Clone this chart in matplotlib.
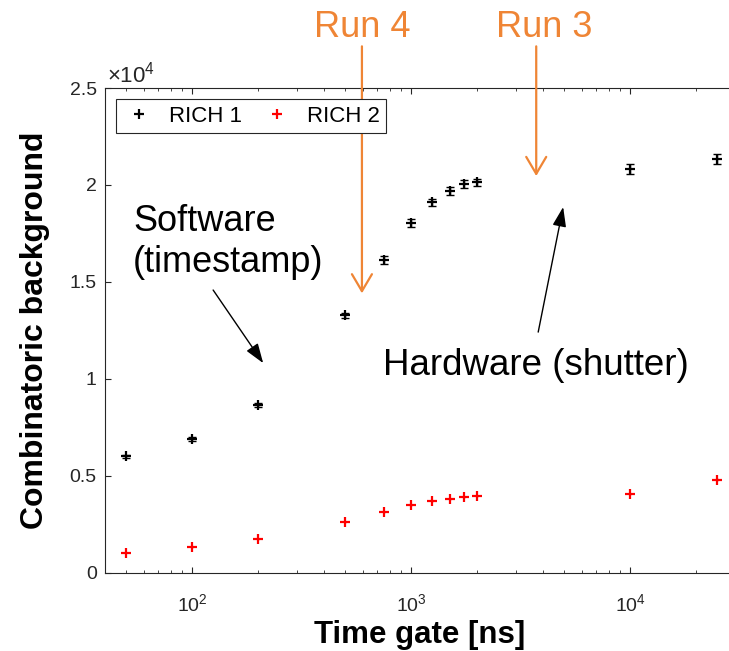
import matplotlib
matplotlib.use("Agg")
import matplotlib.pyplot as plt
from matplotlib.ticker import FuncFormatter, LogLocator

plt.rcParams['font.family'] = ['Liberation Sans', 'DejaVu Sans']
plt.rcParams['mathtext.fontset'] = 'custom'
plt.rcParams['mathtext.rm'] = 'Liberation Sans'
plt.rcParams['mathtext.it'] = 'Liberation Sans:italic'
plt.rcParams['mathtext.bf'] = 'Liberation Sans:bold'

# time gate scan, background counts per detector
time_gate = [50, 100, 200, 500, 750, 1000, 1250, 1500, 1750, 2000, 10000, 25000]
rich1 = [5995, 6895, 8650, 13290, 16130, 18020, 19100, 19700, 20030, 20130, 20820, 21340]
rich1_err = [90, 90, 100, 130, 200, 200, 200, 200, 200, 200, 240, 240]
rich2 = [1030, 1325, 1740, 2600, 3130, 3510, 3710, 3820, 3890, 3940, 4040, 4800]
rich2_err = [40, 40, 40, 50, 50, 50, 50, 50, 50, 50, 50, 60]

orange = '#EF8535'
axcol = '#262626'

fig = plt.figure(figsize=(7.29, 6.51), dpi=100)
ax = fig.add_axes([0.144, 0.1203, 0.8638, 0.7445])

ax.errorbar(time_gate, rich1, yerr=rich1_err, fmt='none', ecolor='black',
            elinewidth=1.0, capsize=3.2, capthick=1.0)
ax.errorbar(time_gate, rich2, yerr=rich2_err, fmt='none', ecolor='red',
            elinewidth=1.0, capsize=0)
ax.plot(time_gate, rich1, '+', color='black', ms=7, mew=1.6, label='RICH 1')
ax.plot(time_gate, rich2, '+', color='red', ms=7, mew=1.6, label='RICH 2')

ax.set_xscale('log')
ax.set_xlim(40, 3e4)
ax.set_ylim(0, 2.5e4)
ax.set_yticks([0, 5000, 10000, 15000, 20000, 25000])
ax.yaxis.set_major_formatter(FuncFormatter(lambda v, p: f'{v / 1e4:g}'))
ax.xaxis.set_major_locator(LogLocator(base=10, numticks=10))

for sp in ax.spines.values():
    sp.set_color(axcol)
    sp.set_linewidth(0.8)
ax.tick_params(which='both', direction='in', top=True, right=True,
               colors=axcol, labelcolor='#262626', labelsize=14)
ax.tick_params(which='major', length=4.5, width=0.8)
ax.tick_params(which='minor', length=2.5, width=0.6)
ax.tick_params(axis='y', pad=6)
ax.tick_params(axis='x', pad=15)

ax.set_xlabel('Time gate [ns]', fontsize=22.5, fontweight='bold', labelpad=3)
ax.set_ylabel('Combinatoric background', fontsize=23, fontweight='bold', labelpad=14)

fig.text(107 / 729, 1 - 83 / 651, r'$\times10^{4}$', fontsize=16,
         color='#262626', ha='left', va='baseline')

leg = ax.legend(loc='upper left', ncol=2, fontsize=16, frameon=True,
                fancybox=False, edgecolor=axcol, framealpha=1,
                handlelength=1.5, handletextpad=0.6, columnspacing=0.8,
                borderpad=0.3, borderaxespad=0.5)
leg.get_frame().set_linewidth(0.8)

# run markers above the plot
for xr, ytip, xt, label in [(596, 14410, 596, 'Run 4'), (3724, 20460, 4046, 'Run 3')]:
    ax.annotate('', xy=(xr, ytip), xytext=(xr, 27150), xycoords='data',
                arrowprops=dict(arrowstyle='->,head_length=0.61,head_width=0.36',
                                color=orange, lw=1.6, shrinkA=0, shrinkB=0,
                                mutation_scale=20),
                annotation_clip=False)
    ax.text(xt, 27630, label, fontsize=26, color=orange, ha='center',
            va='baseline', clip_on=False)

# software / hardware gating labels
ax.annotate('', xy=(211, 10810), xytext=(124.7, 14580),
            arrowprops=dict(arrowstyle='-|>,head_length=1.2,head_width=0.42',
                            color='black', lw=1.0, shrinkA=0, shrinkB=0,
                            mutation_scale=10))
ax.text(53.8, 17050, 'Software\n(timestamp)', fontsize=26, ha='left',
        va='center', linespacing=1.22)

ax.annotate('', xy=(4943, 18860), xytext=(3802, 12410),
            arrowprops=dict(arrowstyle='-|>,head_length=1.2,head_width=0.42',
                            color='black', lw=1.0, shrinkA=0, shrinkB=0,
                            mutation_scale=10))
ax.text(745, 10200, 'Hardware (shutter)', fontsize=26.5, ha='left', va='baseline')

fig.savefig('out.png', dpi=100)
